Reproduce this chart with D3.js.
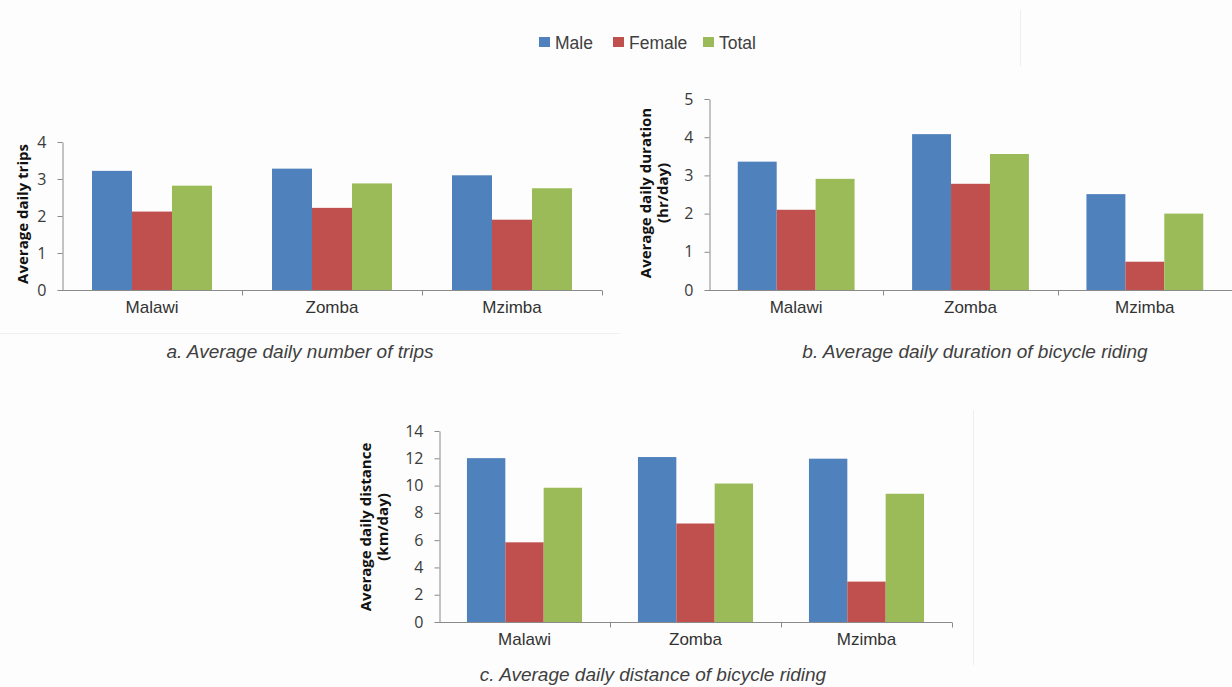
<!DOCTYPE html>
<html><head><meta charset="utf-8">
<script src="https://cdn.jsdelivr.net/npm/d3@7"></script>
<style>
html,body{margin:0;padding:0;background:#fdfdfd;}
svg{display:block;}
</style></head>
<body>
<svg id="chart" width="1232" height="687"></svg>
<script>
const categories = ["Malawi", "Zomba", "Mzimba"];
const seriesNames = ["Male", "Female", "Total"];
const colors = ["#4F81BD", "#C0504D", "#9BBB59"];

// a. Average daily number of trips
const tripsMale = [3.22, 3.28, 3.10];
const tripsFemale = [2.12, 2.22, 1.90];
const tripsTotal = [2.82, 2.88, 2.75];
const tripsTicks = [0, 1, 2, 3, 4];

// b. Average daily duration (hr/day)
const durMale = [3.36, 4.08, 2.51];
const durFemale = [2.10, 2.78, 0.74];
const durTotal = [2.91, 3.56, 2.00];
const durTicks = [0, 1, 2, 3, 4, 5];

// c. Average daily distance (km/day)
const distMale = [12.01, 12.09, 11.97];
const distFemale = [5.84, 7.22, 2.96];
const distTotal = [9.84, 10.15, 9.40];
const distTicks = [0, 2, 4, 6, 8, 10, 12, 14];

const SANS = "'Liberation Sans', Arial, Helvetica, sans-serif";
const TICKFONT = "'Open Sans', 'Noto Sans', sans-serif";

const svg = d3.select("#chart");
svg.append("rect").attr("width", 1232).attr("height", 687).attr("fill", "#fdfdfd");
// faint panel edges from the original screenshot
svg.append("line").attr("x1", 1020.5).attr("x2", 1020.5).attr("y1", 10).attr("y2", 66).attr("stroke", "#eeeeee");
svg.append("line").attr("x1", 0).attr("x2", 620).attr("y1", 333.5).attr("y2", 333.5).attr("stroke", "#f0f0f0");
svg.append("line").attr("x1", 973.5).attr("x2", 973.5).attr("y1", 410).attr("y2", 665).attr("stroke", "#eeeeee");

function drawChart(cfg) {
  const g = svg.append("g");
  const x = d3.scaleBand().domain(categories).range([cfg.x0, cfg.x1])
    .paddingInner(cfg.pad).paddingOuter(cfg.pad / 2);
  const xs = d3.scaleBand().domain(seriesNames).range([0, x.bandwidth()]);
  const y = d3.scaleLinear().domain([0, d3.max(cfg.ticks)]).range([cfg.yBottom, cfg.yTop]);

  // bars
  cfg.series.forEach((vals, si) => {
    g.selectAll(null).data(categories).enter().append("rect")
      .attr("x", c => x(c) + xs(seriesNames[si]))
      .attr("width", xs.bandwidth())
      .attr("y", (c, i) => y(vals[i]))
      .attr("height", (c, i) => y(0) - y(vals[i]))
      .attr("fill", colors[si]);
  });

  // y axis
  const ya = d3.axisLeft(y).tickValues(cfg.ticks).tickSize(5).tickSizeOuter(0).tickPadding(11)
    .tickFormat(d3.format("d"));
  const yg = g.append("g").attr("transform", `translate(${cfg.x0 + 0.5},0)`).call(ya);
  yg.select(".domain").attr("stroke", "#8a8a8a");
  yg.selectAll(".tick line").attr("stroke", "#8a8a8a");
  yg.selectAll(".tick text").attr("fill", "#3a3a3a")
    .style("font-family", TICKFONT).style("font-size", "16px");

  // x axis line with boundary ticks
  const xg = g.append("g").attr("transform", `translate(0,${cfg.yBottom + 0.5})`);
  xg.append("line").attr("x1", cfg.x0).attr("x2", cfg.x1).attr("stroke", "#8a8a8a");
  const step = x.step();
  const bounds = categories.map((c, i) => x(c) - x.paddingInner() * step / 2 + step);
  xg.selectAll(null).data(bounds).enter().append("line")
    .attr("x1", d => Math.round(d) + 0.5).attr("x2", d => Math.round(d) + 0.5)
    .attr("y1", 0).attr("y2", 5).attr("stroke", "#8a8a8a");
  xg.selectAll(null).data(categories).enter().append("text")
    .attr("x", c => x(c) + x.bandwidth() / 2).attr("y", 22)
    .attr("text-anchor", "middle").attr("fill", "#333")
    .style("font-family", SANS).style("font-size", "17px")
    .text(c => c);

  // y title
  const t = g.append("text")
    .attr("transform", `translate(${cfg.titleX},${cfg.titleY}) rotate(-90)`)
    .attr("text-anchor", "middle").attr("fill", "#111")
    .style("font-family", TICKFONT).style("font-size", "15px")
    .style("font-weight", "bold");
  cfg.yTitle.forEach((line, i) => {
    t.append("tspan").attr("x", 0).attr("dy", i === 0 ? 0 : "1.1em").text(line);
  });

  // caption
  g.append("text").attr("x", cfg.capX).attr("y", cfg.capY).attr("text-anchor", "middle")
    .attr("fill", "#404040").style("font-family", SANS)
    .style("font-size", "19px").style("font-style", "italic").text(cfg.caption);
}

drawChart({
  x0: 62, x1: 602, yTop: 142, yBottom: 290, pad: 1 / 3, ticks: tripsTicks,
  series: [tripsMale, tripsFemale, tripsTotal],
  yTitle: ["Average daily trips"], titleX: 28, titleY: 214,
  caption: "a. Average daily number of trips", capX: 300, capY: 358
});
drawChart({
  x0: 709, x1: 1232, yTop: 99, yBottom: 290, pad: 0.33, ticks: durTicks,
  series: [durMale, durFemale, durTotal],
  yTitle: ["Average daily duration", "(hr/day)"], titleX: 651, titleY: 193,
  caption: "b. Average daily duration of bicycle riding", capX: 975, capY: 358
});
drawChart({
  x0: 439, x1: 952, yTop: 431, yBottom: 622, pad: 0.327, ticks: distTicks,
  series: [distMale, distFemale, distTotal],
  yTitle: ["Average daily distance", "(km/day)"], titleX: 371, titleY: 527,
  caption: "c. Average daily distance of bicycle riding", capX: 653, capY: 681
});

// legend
const legend = svg.append("g");
const legSq = [539, 613, 703];
seriesNames.forEach((s, i) => {
  legend.append("rect").attr("x", legSq[i]).attr("y", 37).attr("width", 11).attr("height", 10).attr("fill", colors[i]);
  legend.append("text").attr("x", legSq[i] + 16).attr("y", 49).attr("fill", "#404040")
    .style("font-family", SANS).style("font-size", "17.5px").text(s);
});
</script>
</body></html>
